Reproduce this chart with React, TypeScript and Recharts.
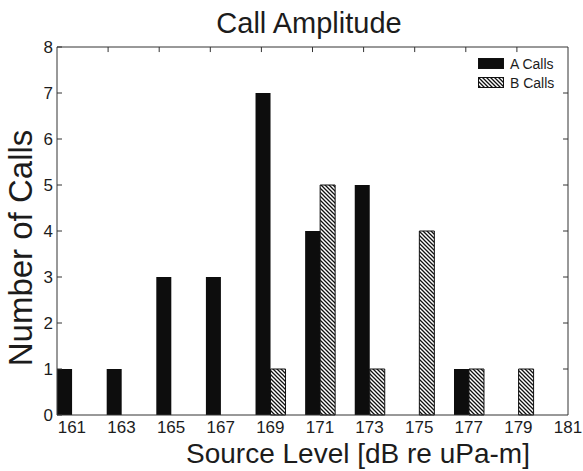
import React from 'react';
import { BarChart, Bar, XAxis, YAxis, Legend, ReferenceLine } from 'recharts';

// source level bins (dB re uPa-m) and counts per call type
const LEVELS = [161, 163, 165, 167, 169, 171, 173, 175, 177, 179];
const A_CALLS = [1, 1, 3, 3, 7, 4, 5, 0, 1, 0];
const B_CALLS = [0, 0, 0, 0, 1, 5, 1, 4, 1, 1];

const X_TICKS = [161, 163, 165, 167, 169, 171, 173, 175, 177, 179, 181];
const Y_TICKS = [0, 1, 2, 3, 4, 5, 6, 7, 8];
// box tick marks along the top edge (evenly split, not aligned to bins)
const TOP_EDGE_TICKS = [162.46, 164.52, 166.58, 168.64, 170.7, 172.76, 174.82, 176.88, 178.94];

const X_MIN = 160.4;
const X_MAX = 181;
const Y_MAX = 8;

const FONT = '"Liberation Sans", Arial, Helvetica, sans-serif';
const INK = '#1c1c1c';
const FRAME = '#333';

const data = LEVELS.map((level, i) => ({ level, a: A_CALLS[i], b: B_CALLS[i] }));

const HatchDef = ({ id }: { id: string }) => (
  <pattern id={id} patternUnits="userSpaceOnUse" width={4} height={4}>
    <rect width={4} height={4} fill="#fff" />
    <path d="M0,0 L4,4 M-1,3 L1,5 M3,-1 L5,1" stroke="#111" strokeWidth={1.3} />
  </pattern>
);

const renderLegend = (props: any) => {
  const items = props.payload || [];
  return (
    <div style={{ fontFamily: FONT, fontSize: 14, color: INK }}>
      {items.map((entry: any, i: number) => (
        <div key={i} style={{ display: 'flex', alignItems: 'center', height: 19 }}>
          <svg width={26} height={11} style={{ display: 'block' }}>
            <defs>
              <HatchDef id={`legend-hatch-${i}`} />
            </defs>
            <rect
              x={0.5}
              y={0.5}
              width={25}
              height={10}
              fill={entry.dataKey === 'b' ? `url(#legend-hatch-${i})` : '#0d0d0d'}
              stroke="#111"
              strokeWidth={1}
            />
          </svg>
          <span style={{ marginLeft: 6 }}>{entry.value}</span>
        </div>
      ))}
    </div>
  );
};

export default function App() {
  const tickStyle = { fill: INK, fontSize: 17, fontFamily: FONT };
  return (
    <div style={{ position: 'absolute', left: 0, top: 0, width: 583, height: 471, background: '#fff' }}>
      <BarChart
        width={583}
        height={471}
        data={data}
        margin={{ top: 47, right: 15, bottom: 0, left: 0 }}
        barGap={0}
        barSize={15}
      >
        <defs>
          <HatchDef id="hatch-b" />
        </defs>
        <XAxis
          dataKey="level"
          type="number"
          domain={[X_MIN, X_MAX]}
          ticks={X_TICKS}
          interval={0}
          height={56}
          tickSize={0}
          tickMargin={6}
          tick={tickStyle}
          axisLine={{ stroke: FRAME, strokeWidth: 1 }}
        />
        <YAxis
          type="number"
          domain={[0, Y_MAX]}
          ticks={Y_TICKS}
          interval={0}
          width={57}
          tickSize={-5}
          tickMargin={9}
          tick={tickStyle}
          axisLine={{ stroke: FRAME, strokeWidth: 1 }}
          tickLine={{ stroke: FRAME }}
        />

        {/* top and right edges of the box */}
        <ReferenceLine y={Y_MAX} stroke={FRAME} strokeWidth={1} ifOverflow="visible" />
        <ReferenceLine x={X_MAX} stroke={FRAME} strokeWidth={1} ifOverflow="visible" />
        {Y_TICKS.slice(1, -1).map((v) => (
          <ReferenceLine
            key={`r${v}`}
            segment={[{ x: X_MAX - 0.2, y: v }, { x: X_MAX, y: v }]}
            stroke={FRAME}
            ifOverflow="visible"
          />
        ))}
        {TOP_EDGE_TICKS.map((t) => (
          <ReferenceLine
            key={`t${t}`}
            segment={[{ x: t, y: Y_MAX }, { x: t, y: Y_MAX - 0.11 }]}
            stroke={FRAME}
            ifOverflow="visible"
          />
        ))}

        <Legend
          layout="vertical"
          align="center"
          verticalAlign="middle"
          content={renderLegend}
          wrapperStyle={{ position: 'absolute', left: 478, top: 54, width: 'auto', height: 'auto' }}
        />
        <Bar dataKey="a" name="A Calls" fill="#0d0d0d" isAnimationActive={false} />
        <Bar
          dataKey="b"
          name="B Calls"
          fill="url(#hatch-b)"
          stroke="#111"
          strokeWidth={1}
          isAnimationActive={false}
        />
      </BarChart>
      <svg
        width={583}
        height={471}
        style={{ position: 'absolute', left: 0, top: 0, pointerEvents: 'none' }}
      >
        <text x={309} y={33} textAnchor="middle" fontFamily={FONT} fontSize={29} fill={INK}>
          Call Amplitude
        </text>
        <text x={358} y={463} textAnchor="middle" fontFamily={FONT} fontSize={28} fill={INK}>
          Source Level [dB re uPa-m]
        </text>
        <text
          x={32}
          y={248}
          textAnchor="middle"
          fontFamily={FONT}
          fontSize={33}
          fill={INK}
          transform="rotate(-90, 32, 248)"
        >
          Number of Calls
        </text>
      </svg>
    </div>
  );
}
